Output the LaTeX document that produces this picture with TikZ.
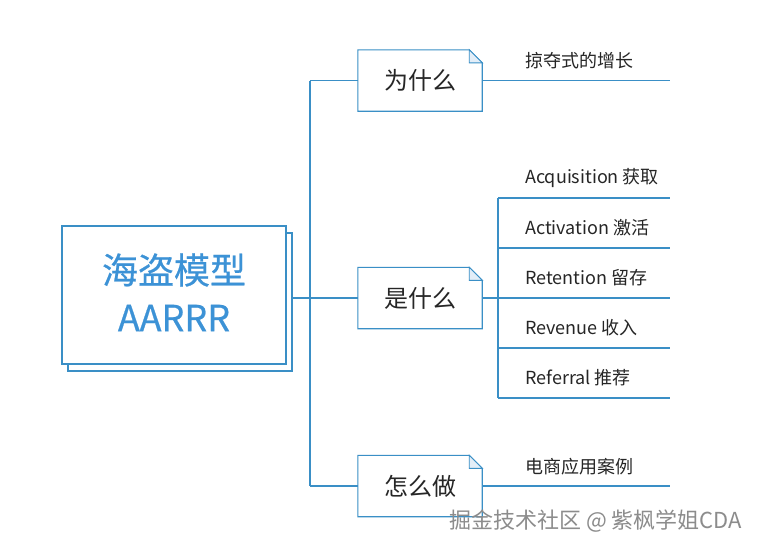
\documentclass[tikz,border=0pt]{standalone}
\usepackage{fontspec}
\setmainfont{Noto Sans CJK SC}
\newfontfamily\titlefont{Noto Sans CJK SC}[FakeBold=0.6]
\definecolor{lineblue}{HTML}{3A8FC6}
\definecolor{titleblue}{HTML}{3C92D6}
\definecolor{foldfill}{HTML}{E3EEF8}
\definecolor{wmgray}{HTML}{8C8C8C}
\tikzset{
  conn/.style={draw=lineblue, line width=1.1pt},
  boxline/.style={draw=lineblue, line width=1.1pt, fill=white},
  qbox/.style={minimum width=124pt, minimum height=61pt, inner sep=0pt, font=\fontsize{24}{28}\selectfont, text=black!85},
  leaf/.style={anchor=west, inner sep=0pt, font=\fontsize{18}{21}\selectfont, text=black!85},
  title/.style={inner sep=0pt, font=\titlefont\fontsize{36}{40}\selectfont, text=titleblue},
}
\begin{document}
\begin{tikzpicture}[x=1pt,y=-1pt]
\useasboundingbox (0,0) rectangle (761,550);
\fill[white] (0,0) rectangle (761,550);
% main box (stacked)
\draw[boxline] (68,233) rectangle (292,371);
\node[draw=lineblue, line width=1.1pt, fill=white, minimum width=224pt, minimum height=138pt, inner sep=0pt] (main) at (174,295) {};
\node[title] (t1) at (174,270) {海盗模型};
\node[title] (t2) at (174,318) {AARRR};
% question boxes
\node[qbox] (why) at (420,80.5) {};
\node[qbox] (what) at (420,298) {};
\node[qbox] (how) at (420,486) {};
\foreach \b in {why,what,how}{
  \draw[boxline] (\b.north west) -- ([xshift=-13pt]\b.north east) -- ([yshift=-13pt]\b.north east) -- (\b.south east) -- (\b.south west) -- cycle;
  \draw[draw=lineblue, line width=0.9pt, fill=foldfill] ([xshift=-13pt]\b.north east) -- ([xshift=-13pt,yshift=-13pt]\b.north east) -- ([yshift=-13pt]\b.north east) -- cycle;
}
\node[qbox] at (why) {为什么};
\node[qbox] at (what) {是什么};
\node[qbox] at (how) {怎么做};
% trunk
\coordinate (jx) at (310,0);
\coordinate (j) at (jx |- what.west);
\coordinate (jt) at (jx |- why.west);
\coordinate (jb) at (jx |- how.west);
\coordinate (mo) at (292,0);
% trunk connectors
\draw[conn] (mo |- j) -- (j);
\draw[conn] (jt) -- (jb);
\draw[conn] (jt) -- (why.west);
\draw[conn] (j) -- (what.west);
\draw[conn] (jb) -- (how.west);
% why branch
\coordinate (endx) at (670,0);
\draw[conn] (why.east) -- (endx |- why.east);
\node[leaf] (l0) at (525,61) {掠夺式的增长};
% what branch
\coordinate (wx) at (498,0);
\coordinate (w0) at (498,198);
\coordinate (w4) at (498,398);
\draw[conn] (what.east) -- (wx |- what.east);
\draw[conn] (w0) -- (w4);
\foreach \yy in {198,248,298,348,398}{
  \draw[conn] (498,\yy) -- (670,\yy);
}
\node[leaf] (a1) at (525,178) {Acquisition 获取};
\node[leaf] (a2) at (525,228) {Activation 激活};
\node[leaf] (a3) at (525,278) {Retention 留存};
\node[leaf] (a4) at (525,328) {Revenue 收入};
\node[leaf] (a5) at (525,378) {Referral 推荐};
% how branch
\draw[conn] (how.east) -- (endx |- how.east);
\node[leaf] (l6) at (525,467) {电商应用案例};
% watermark
\node[anchor=west, inner sep=0pt, font=\fontsize{22}{26}\selectfont, text=wmgray] (wm) at (449,521) {掘金技术社区 @ 紫枫学姐CDA};
\end{tikzpicture}
\end{document}
